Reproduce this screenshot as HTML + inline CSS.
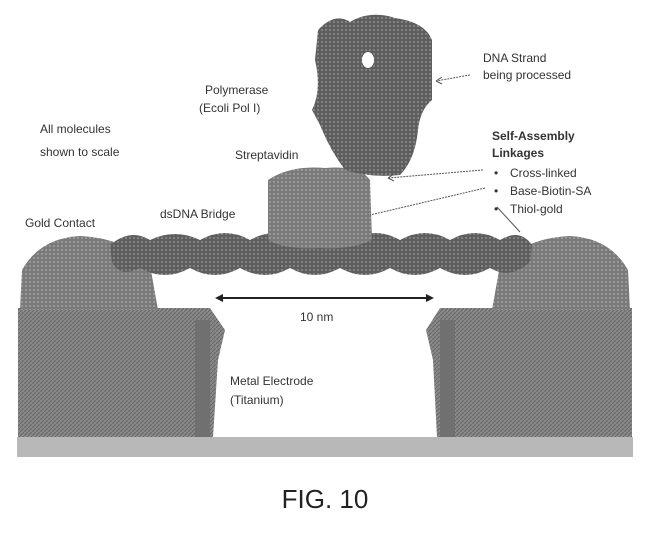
<!DOCTYPE html>
<html><head><style>
body{margin:0;background:#fff;}
svg{display:block}
text{font-family:"Liberation Sans",sans-serif;font-size:12px;fill:#333}
</style></head><body>
<svg width="650" height="549" viewBox="0 0 650 549">
<defs>
<pattern id="tex" width="4" height="4" patternUnits="userSpaceOnUse">
<rect width="4" height="4" fill="#8a8a8a"/><path d="M0 4L4 0" stroke="#6a6a6a" stroke-width="1.2"/>
</pattern>
<pattern id="tex2" width="4" height="4" patternUnits="userSpaceOnUse">
<rect width="4" height="4" fill="#7a7a7a"/><circle cx="2" cy="2" r="1" fill="#a0a0a0"/>
</pattern>
<pattern id="tex3" width="4" height="4" patternUnits="userSpaceOnUse">
<rect width="4" height="4" fill="#5e5e5e"/><circle cx="2" cy="2" r="1" fill="#8e8e8e"/>
</pattern>
</defs>
<!-- base bar -->
<rect x="17" y="437" width="616" height="20" fill="#b8b8b8"/>
<!-- electrodes -->
<path d="M18 308 L210 308 L225 330 L218 360 L213 437 L18 437Z" fill="url(#tex)"/>
<path d="M440 308 L632 308 L632 437 L437 437 L433 360 L426 330Z" fill="url(#tex)"/>
<rect x="195" y="320" width="15" height="117" fill="#707070"/>
<rect x="440" y="320" width="15" height="117" fill="#707070"/>
<!-- gold domes -->
<path d="M20 310 L22 270 Q40 238 80 236 Q125 238 150 265 L158 310Z" fill="url(#tex2)"/>
<path d="M492 310 L500 265 Q525 238 570 236 Q610 238 628 270 L630 310Z" fill="url(#tex2)"/>
<!-- DNA -->
<path d="M110 245 Q130 228 150 240 Q175 228 200 240 Q225 226 250 240 Q275 226 300 240 Q325 226 350 240 Q375 226 400 240 Q425 226 450 240 Q475 226 500 240 Q520 228 532 245 L530 262 Q510 280 490 268 Q465 282 440 268 Q415 282 390 268 Q365 282 340 268 Q315 282 290 268 Q265 282 240 268 Q215 282 190 268 Q165 282 140 268 Q120 278 112 262Z" fill="url(#tex3)"/>
<!-- streptavidin -->
<path d="M268 180 Q290 165 325 168 Q360 165 370 180 L372 240 Q350 250 320 248 Q285 250 268 240 Z" fill="url(#tex2)"/>
<!-- polymerase -->
<path d="M318 30 Q335 12 350 22 Q370 10 395 18 Q425 22 432 40 L432 100 Q420 110 418 130 Q415 160 400 175 Q370 178 345 170 Q330 150 320 125 L312 110 Q322 90 315 60Z" fill="url(#tex3)"/>
<ellipse cx="368" cy="60" rx="6" ry="8" fill="#fff"/>
<!-- leaders -->
<g stroke="#555" stroke-width="1" stroke-dasharray="2,1" fill="none">
<line x1="470" y1="75" x2="436" y2="81"/>
<line x1="483" y1="170" x2="388" y2="178"/>
<line x1="485" y1="188" x2="370" y2="215"/>
<line x1="497" y1="207" x2="520" y2="232" stroke-dasharray="none"/>
</g>
<path d="M436 81 l6 -4 M436 81 l6 3 M388 178 l6 -4 M388 178 l6 3" stroke="#555"/>
<!-- 10nm arrow -->
<line x1="178" y1="298" x2="340" y2="298" stroke="none"/>
<line x1="217" y1="298" x2="432" y2="298" stroke="#222" stroke-width="2"/>
<path d="M215 298 l8 -4 v8Z M434 298 l-8 -4 v8Z" fill="#222"/>
<text x="300" y="321">10 nm</text>
<!-- labels -->
<text x="483" y="62">DNA Strand</text>
<text x="483" y="79">being processed</text>
<text x="205" y="94">Polymerase</text>
<text x="199" y="112">(Ecoli Pol I)</text>
<text x="40" y="133">All molecules</text>
<text x="40" y="156">shown to scale</text>
<text x="235" y="159">Streptavidin</text>
<text x="492" y="140" style="font-weight:bold">Self-Assembly</text>
<text x="492" y="157" style="font-weight:bold">Linkages</text>
<text x="494" y="177">•</text><text x="510" y="177">Cross-linked</text>
<text x="494" y="195">•</text><text x="510" y="195">Base-Biotin-SA</text>
<text x="494" y="213">•</text><text x="510" y="213">Thiol-gold</text>
<text x="160" y="218">dsDNA Bridge</text>
<text x="25" y="227">Gold Contact</text>
<text x="230" y="385">Metal Electrode</text>
<text x="230" y="404">(Titanium)</text>
<text x="325" y="508" text-anchor="middle" style="font-size:26px;fill:#222">FIG. 10</text>
</svg>
</body></html>
